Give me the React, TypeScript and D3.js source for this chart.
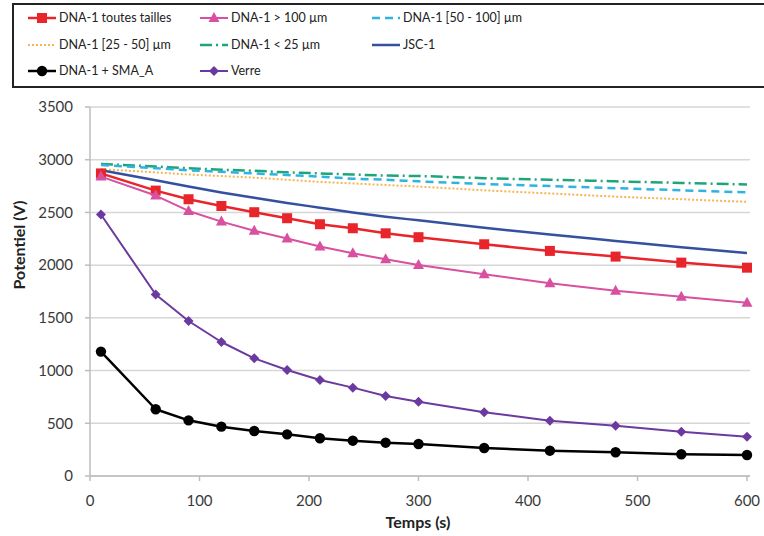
import React from "react";
import * as d3 from "d3";

const times = [10, 60, 90, 120, 150, 180, 210, 240, 270, 300, 360, 420, 480, 540, 600];

const dnaAll = [2870, 2707, 2625, 2561, 2502, 2445, 2388, 2350, 2302, 2265, 2198, 2135, 2081, 2024, 1976];
const dnaGt100 = [2840, 2660, 2514, 2413, 2327, 2252, 2176, 2113, 2056, 2002, 1913, 1828, 1758, 1701, 1644];
const dna50_100 = [2950, 2920, 2900, 2885, 2870, 2855, 2840, 2820, 2810, 2795, 2770, 2750, 2730, 2710, 2690];
const dna25_50 = [2910, 2880, 2860, 2845, 2830, 2810, 2790, 2775, 2760, 2745, 2710, 2680, 2650, 2625, 2600];
const dnaLt25 = [2960, 2935, 2920, 2905, 2895, 2880, 2870, 2860, 2850, 2845, 2825, 2810, 2795, 2780, 2765];
const jsc1 = [2900, 2805, 2745, 2690, 2640, 2590, 2545, 2500, 2460, 2425, 2355, 2290, 2230, 2170, 2115];
const dnaSma = [1180, 633, 528, 468, 427, 395, 358, 335, 316, 304, 266, 240, 225, 206, 199];
const verre = [2480, 1722, 1470, 1271, 1116, 1006, 911, 838, 759, 705, 604, 525, 477, 420, 373];

const yTicks = [0, 500, 1000, 1500, 2000, 2500, 3000, 3500];
const xTicks = [0, 100, 200, 300, 400, 500, 600];

type Series = {
  name: string;
  values: number[];
  color: string;
  width: number;
  dash?: string;
  marker?: "square" | "triangle" | "diamond" | "circle";
};

const series: Series[] = [
  { name: "DNA-1 toutes tailles", values: dnaAll, color: "#e8252b", width: 2.5, marker: "square" },
  { name: "DNA-1 > 100 µm", values: dnaGt100, color: "#d8509f", width: 2, marker: "triangle" },
  { name: "DNA-1 [50 - 100] µm", values: dna50_100, color: "#2fb3e3", width: 2.5, dash: "8,5" },
  { name: "DNA-1 [25 - 50] µm", values: dna25_50, color: "#f6b552", width: 2, dash: "2,2" },
  { name: "DNA-1 < 25 µm", values: dnaLt25, color: "#1ea57a", width: 2.5, dash: "12,4,2,4" },
  { name: "JSC-1", values: jsc1, color: "#34509f", width: 2.5 },
  { name: "DNA-1 + SMA_A", values: dnaSma, color: "#000000", width: 2.5, marker: "circle" },
  { name: "Verre", values: verre, color: "#6b3aa0", width: 2, marker: "diamond" },
];

const drawOrder = [4, 2, 3, 5, 0, 1, 7, 6];

const W = 764;
const H = 536;
const left = 90;
const right = 747;
const top = 107;
const bottom = 476;

const x = d3.scaleLinear().domain([0, 600]).range([left, right]);
const y = d3.scaleLinear().domain([0, 3500]).range([bottom, top]);

function Marker({ kind, cx, cy, color }: { kind?: string; cx: number; cy: number; color: string }) {
  if (!kind) return null;
  if (kind === "square") return <rect x={cx - 5} y={cy - 5} width={10} height={10} fill={color} />;
  if (kind === "circle") return <circle cx={cx} cy={cy} r={5.2} fill={color} />;
  if (kind === "triangle")
    return <path d={`M${cx},${cy - 6}L${cx + 5.5},${cy + 4}L${cx - 5.5},${cy + 4}Z`} fill={color} />;
  if (kind === "diamond")
    return <path d={`M${cx},${cy - 5}L${cx + 5},${cy}L${cx},${cy + 5}L${cx - 5},${cy}Z`} fill={color} />;
  return null;
}

export default function App() {
  const line = d3
    .line<number>()
    .x((_, i) => x(times[i]))
    .y((d) => y(d));
  const smooth = d3
    .line<number>()
    .x((_, i) => x(times[i]))
    .y((d) => y(d))
    .curve(d3.curveMonotoneX);
  const font = "Lato, 'Open Sans', sans-serif";
  const legendCols = [28, 200, 372];
  const legendRows = [18, 45, 71];
  return (
    <svg width={W} height={H} style={{ display: "block", position: "absolute", left: 0, top: 0, background: "#fff" }} fontFamily={font}>
      <rect x={0} y={0} width={W} height={H} fill="#fff" />
      {/* gridlines */}
      {yTicks.map((t) => (
        <line key={"g" + t} x1={left} x2={right + 3} y1={y(t)} y2={y(t)} stroke="#d6d6d6" strokeWidth={1.5} />
      ))}
      {/* axes */}
      <line x1={left} x2={left} y1={top} y2={bottom} stroke="#bdbdbd" strokeWidth={1.5} />
      <line x1={left} x2={right + 3} y1={bottom} y2={bottom} stroke="#bdbdbd" strokeWidth={1.5} />
      {yTicks.map((t) => (
        <line key={"yt" + t} x1={left - 5} x2={left} y1={y(t)} y2={y(t)} stroke="#bdbdbd" strokeWidth={1.5} />
      ))}
      {xTicks.map((t) => (
        <line key={"xt" + t} x1={x(t)} x2={x(t)} y1={bottom} y2={bottom + 5} stroke="#bdbdbd" strokeWidth={1.5} />
      ))}
      {yTicks.map((t) => (
        <text key={"yl" + t} x={left - 17} y={y(t)} dy="0.35em" textAnchor="end" fontSize={15} fill="#3a3a3a">
          {t}
        </text>
      ))}
      {xTicks.map((t) => (
        <text key={"xl" + t} x={x(t)} y={501} dy="0.35em" textAnchor="middle" fontSize={15} fill="#3a3a3a">
          {t}
        </text>
      ))}
      <text x={418} y={522} dy="0.35em" textAnchor="middle" fontSize={16} fontWeight="bold" fill="#222">
        Temps (s)
      </text>
      <text
        transform={`translate(19,245) rotate(-90)`}
        dy="0.35em"
        textAnchor="middle"
        fontSize={16}
        fontWeight="bold"
        fill="#222"
      >
        Potentiel (V)
      </text>
      {/* series */}
      {drawOrder.map((si) => {
        const s = series[si];
        const gen = s.marker ? line : smooth;
        return (
          <g key={s.name}>
            <path d={gen(s.values) || ""} fill="none" stroke={s.color} strokeWidth={s.width} strokeDasharray={s.dash} strokeLinejoin="round" />
            {s.values.map((v, i) => (
              <Marker key={i} kind={s.marker} cx={x(times[i])} cy={y(v)} color={s.color} />
            ))}
          </g>
        );
      })}
      {/* legend */}
      <rect x={13} y={4} width={760} height={83} fill="#fff" stroke="#222" strokeWidth={2} />
      {series.map((s, i) => {
        const cx = legendCols[i % 3];
        const cy = legendRows[Math.floor(i / 3)];
        return (
          <g key={"lg" + i}>
            <line x1={cx} x2={cx + 28} y1={cy} y2={cy} stroke={s.color} strokeWidth={s.width} strokeDasharray={s.dash} />
            <Marker kind={s.marker} cx={cx + 14} cy={cy} color={s.color} />
            <text x={cx + 31} y={cy} dy="0.35em" fontSize={12.5} fill="#222">
              {s.name}
            </text>
          </g>
        );
      })}
    </svg>
  );
}
